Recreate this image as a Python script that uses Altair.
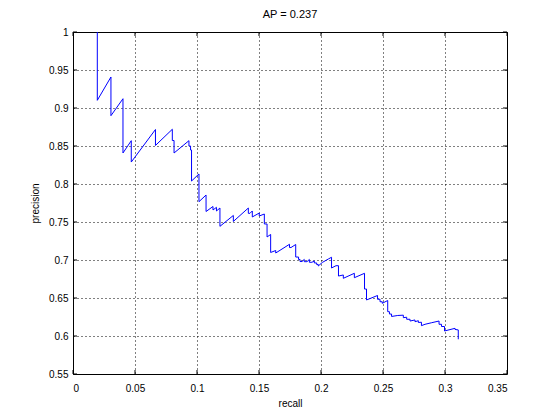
import altair as alt
import pandas as pd

# Precision-recall curve vertices
recall = [
    0.0196, 0.0196, 0.0306, 0.0306, 0.0403, 0.0403, 0.0470, 0.0470,
    0.0665, 0.0665, 0.0801, 0.0801, 0.0815, 0.0815, 0.0935, 0.0935,
    0.0948, 0.0948, 0.0956, 0.0956, 0.1016, 0.1016, 0.1073, 0.1073,
    0.1129, 0.1129, 0.1157, 0.1157, 0.1185, 0.1185, 0.1293, 0.1293,
    0.1414, 0.1414, 0.1427, 0.1446, 0.1446, 0.1502, 0.1502, 0.1543,
    0.1543, 0.1565, 0.1565, 0.1594, 0.1594, 0.1635, 0.1635, 0.1746,
    0.1746, 0.1758, 0.1796, 0.1796, 0.1819, 0.1819, 0.1831, 0.1831,
    0.1847, 0.1865, 0.1865, 0.1887, 0.1906, 0.1906, 0.1927, 0.1946,
    0.1946, 0.1965, 0.1965, 0.1978, 0.1978, 0.2010, 0.2059, 0.2085,
    0.2085, 0.2121, 0.2141, 0.2141, 0.2180, 0.2180, 0.2269, 0.2269,
    0.2351, 0.2351, 0.2367, 0.2367, 0.2456, 0.2456, 0.2476, 0.2476,
    0.2494, 0.2494, 0.2538, 0.2538, 0.2552, 0.2552, 0.2569, 0.2569,
    0.2619, 0.2664, 0.2664, 0.2691, 0.2691, 0.2718, 0.2718, 0.2758,
    0.2758, 0.2785, 0.2785, 0.2810, 0.2810, 0.2839, 0.2893, 0.2952,
    0.2952, 0.2972, 0.2972, 0.2996, 0.2996, 0.3081, 0.3081, 0.3107,
    0.3107,
]
precision = [
    1.0000, 0.9101, 0.9408, 0.8899, 0.9122, 0.8408, 0.8570, 0.8289,
    0.8717, 0.8507, 0.8720, 0.8572, 0.8572, 0.8408, 0.8570, 0.8500,
    0.8500, 0.8447, 0.8447, 0.8039, 0.8132, 0.7767, 0.7855, 0.7638,
    0.7704, 0.7658, 0.7693, 0.7645, 0.7684, 0.7443, 0.7586, 0.7507,
    0.7684, 0.7614, 0.7614, 0.7645, 0.7566, 0.7618, 0.7579, 0.7605,
    0.7474, 0.7474, 0.7303, 0.7336, 0.7099, 0.7125, 0.7092, 0.7207,
    0.7164, 0.7164, 0.7204, 0.7039, 0.7039, 0.7007, 0.7007, 0.6980,
    0.6980, 0.7007, 0.6978, 0.6978, 0.7007, 0.6970, 0.6970, 0.6987,
    0.6961, 0.6961, 0.6941, 0.6941, 0.6921, 0.6967, 0.7013, 0.7036,
    0.6895, 0.6925, 0.6925, 0.6789, 0.6803, 0.6759, 0.6825, 0.6767,
    0.6825, 0.6618, 0.6618, 0.6474, 0.6533, 0.6483, 0.6483, 0.6451,
    0.6451, 0.6430, 0.6467, 0.6320, 0.6320, 0.6289, 0.6289, 0.6257,
    0.6270, 0.6274, 0.6241, 0.6247, 0.6220, 0.6220, 0.6197, 0.6211,
    0.6188, 0.6201, 0.6178, 0.6181, 0.6136, 0.6154, 0.6175, 0.6197,
    0.6154, 0.6154, 0.6125, 0.6125, 0.6066, 0.6101, 0.6086, 0.6080,
    0.5957,
]

x_ticks = [0, 0.05, 0.1, 0.15, 0.2, 0.25, 0.3, 0.35]
y_ticks = [0.55, 0.6, 0.65, 0.7, 0.75, 0.8, 0.85, 0.9, 0.95, 1.0]
title_text = "AP = 0.237"

W, H = 434, 342
FONT = "Liberation Sans"

df = pd.DataFrame({"recall": recall, "precision": precision,
                   "i": list(range(len(recall)))})
xt = pd.DataFrame({"recall": x_ticks})
yt = pd.DataFrame({"precision": y_ticks})

xs = alt.Scale(domain=[0, 0.35], nice=False, zero=False)
ys = alt.Scale(domain=[0.55, 1.0], nice=False, zero=False)

axis_common = dict(
    format="~g", grid=True, gridColor="black", gridOpacity=1,
    gridDash=[1, 3], gridWidth=1, ticks=False, domain=False,
    labelFont=FONT, labelFontSize=10, labelColor="black",
    titleFont=FONT, titleFontSize=10, titleColor="black",
    titleFontWeight="normal",
)
x_axis = alt.Axis(values=x_ticks, title="recall", labelPadding=9,
                  titlePadding=5, **axis_common)
y_axis = alt.Axis(values=y_ticks, title="precision", labelPadding=5,
                  titlePadding=8, **axis_common)

line = alt.Chart(df).mark_line(color="#0000ff", strokeWidth=1, clip=True).encode(
    x=alt.X("recall:Q", scale=xs, axis=x_axis),
    y=alt.Y("precision:Q", scale=ys, axis=y_axis),
    order=alt.Order("i:Q"),
)

tick_len = 4
bx = alt.Chart(xt).mark_rule(color="black", strokeWidth=1).encode(
    x=alt.X("recall:Q", scale=xs, axis=x_axis),
    y=alt.value(H), y2=alt.value(H - tick_len))
tx = alt.Chart(xt).mark_rule(color="black", strokeWidth=1).encode(
    x=alt.X("recall:Q", scale=xs, axis=x_axis),
    y=alt.value(0), y2=alt.value(tick_len))
ly = alt.Chart(yt).mark_rule(color="black", strokeWidth=1).encode(
    y=alt.Y("precision:Q", scale=ys, axis=y_axis),
    x=alt.value(0), x2=alt.value(tick_len))
ry = alt.Chart(yt).mark_rule(color="black", strokeWidth=1).encode(
    y=alt.Y("precision:Q", scale=ys, axis=y_axis),
    x=alt.value(W), x2=alt.value(W - tick_len))

chart = alt.layer(line, bx, tx, ly, ry).properties(
    width=W, height=H,
    title=alt.TitleParams(title_text, font=FONT, fontSize=11,
                          fontWeight="normal", color="black", offset=7),
    autosize=alt.AutoSizeParams(type="none"),
    padding={"left": 65, "top": 24, "right": 45, "bottom": 40},
    background="white",
).configure_view(stroke="black", strokeWidth=1)

chart.save("out.html", embed_options={"renderer": "svg", "actions": False})
